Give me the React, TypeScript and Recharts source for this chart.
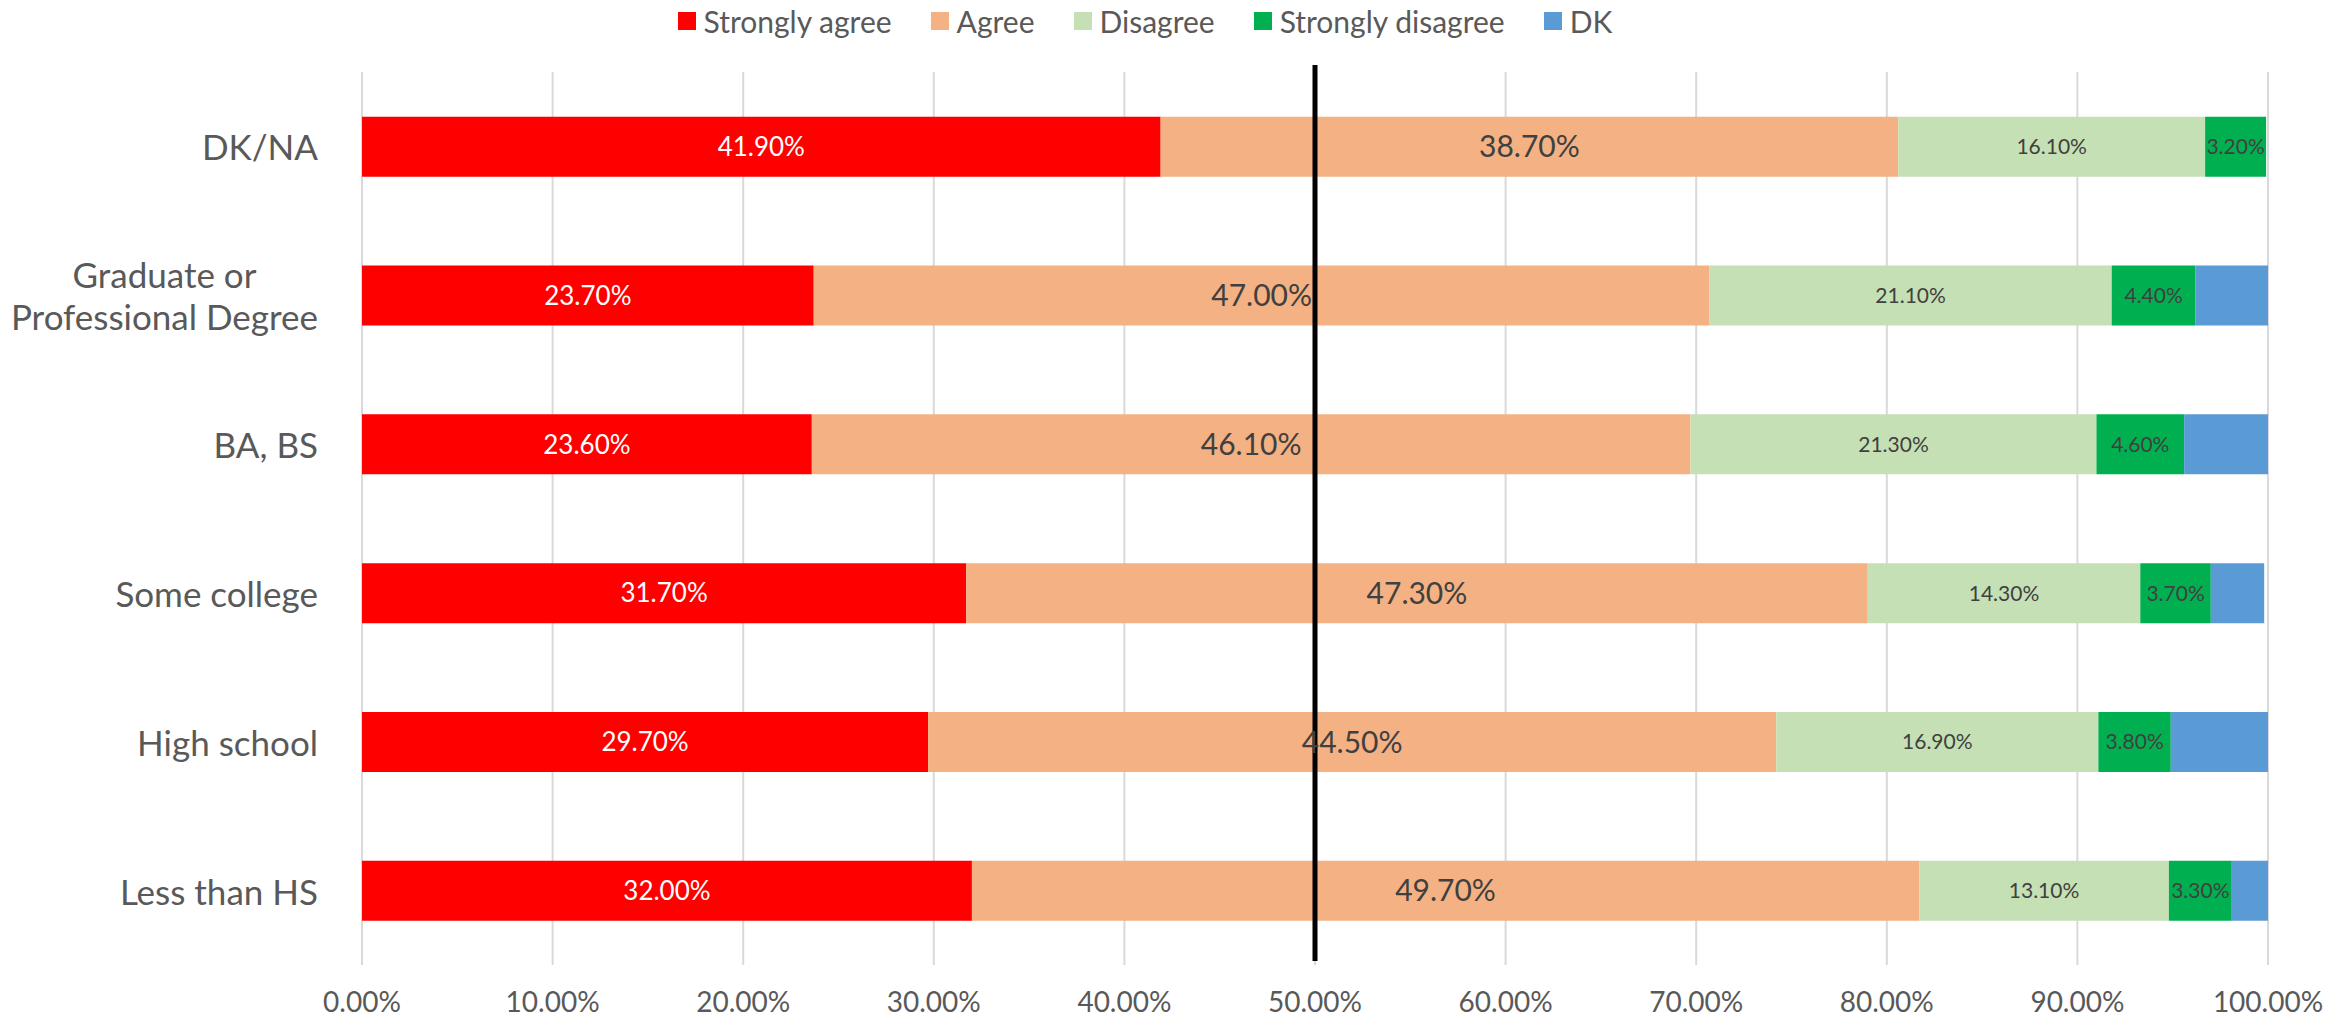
import React from "react";
import { BarChart, Bar, XAxis, YAxis, CartesianGrid, Legend, LabelList, ReferenceLine } from "recharts";

const categories = [
  "DK/NA",
  "Graduate or\nProfessional Degree",
  "BA, BS",
  "Some college",
  "High school",
  "Less than HS",
];
const stronglyAgree = [41.9, 23.7, 23.6, 31.7, 29.7, 32.0];
const agree = [38.7, 47.0, 46.1, 47.3, 44.5, 49.7];
const disagree = [16.1, 21.1, 21.3, 14.3, 16.9, 13.1];
const stronglyDisagree = [3.2, 4.4, 4.6, 3.7, 3.8, 3.3];
const dk = [0, 3.8, 4.4, 2.8, 5.1, 1.9];
const xTicks = [0, 10, 20, 30, 40, 50, 60, 70, 80, 90, 100];

const FONT = "Lato, 'Open Sans', sans-serif";
const AXIS_GREY = "#595959";
const LABEL_GREY = "#404040";

const series = [
  { key: "sa", name: "Strongly agree", color: "#FF0000" },
  { key: "a", name: "Agree", color: "#F4B183" },
  { key: "d", name: "Disagree", color: "#C5E0B4" },
  { key: "sd", name: "Strongly disagree", color: "#00B050" },
  { key: "dk", name: "DK", color: "#5B9BD5" },
];

const data = categories.map((name, i) => ({
  name,
  sa: stronglyAgree[i],
  a: agree[i],
  d: disagree[i],
  sd: stronglyDisagree[i],
  dk: dk[i],
}));

const pct = (v: any) => `${Number(v).toFixed(2)}%`;

let ctx: CanvasRenderingContext2D | null = null;
function textWidth(text: string, font: string) {
  if (!ctx) ctx = document.createElement("canvas").getContext("2d");
  if (!ctx) return text.length * 16;
  ctx.font = font;
  return ctx.measureText(text).width;
}

function CategoryTick({ x, y, payload }: any) {
  const lines = String(payload.value).split("\n");
  const style = { fontFamily: FONT, fontSize: 35, fill: AXIS_GREY };
  if (lines.length === 1) {
    return (
      <text x={x} y={y} textAnchor="end" dominantBaseline="central" {...style}>
        {lines[0]}
      </text>
    );
  }
  const w = Math.max(...lines.map((l) => textWidth(l, `35px Lato`)));
  const lh = 42;
  const y0 = y - ((lines.length - 1) * lh) / 2;
  return (
    <text x={x - w / 2} textAnchor="middle" dominantBaseline="central" {...style}>
      {lines.map((l, i) => (
        <tspan key={i} x={x - w / 2} y={y0 + i * lh}>
          {l}
        </tspan>
      ))}
    </text>
  );
}

function LegendBox() {
  return (
    <div
      style={{
        height: 72,
        display: "flex",
        justifyContent: "center",
        alignItems: "flex-start",
        gap: 39,
        paddingRight: 56,
        fontFamily: FONT,
        fontSize: 30,
        color: AXIS_GREY,
        lineHeight: "36px",
        paddingTop: 3,
        boxSizing: "border-box",
      }}
    >
      {series.map((s) => (
        <div key={s.key} style={{ display: "flex", alignItems: "center", gap: 8 }}>
          <span style={{ width: 18, height: 18, background: s.color, display: "inline-block" }} />
          <span>{s.name}</span>
        </div>
      ))}
    </div>
  );
}

function HalfLine(props: any) {
  const top = Math.min(props.y1, props.y2);
  const bottom = Math.max(props.y1, props.y2);
  return <line x1={props.x1} x2={props.x2} y1={top - 7} y2={bottom - 4} stroke="#000" strokeWidth={5} />;
}

export default function App() {
  return (
    <div style={{ position: "absolute", left: 0, top: 0, width: 2346, height: 1019, background: "#fff" }}>
      <BarChart
        width={2346}
        height={1019}
        data={data}
        layout="vertical"
        barCategoryGap="30%"
        margin={{ top: 0, right: 78, bottom: 0, left: 0 }}
      >
        <Legend verticalAlign="top" content={() => <LegendBox />} wrapperStyle={{ left: 0, width: 2346 }} />
        <CartesianGrid horizontal={false} stroke="#D9D9D9" strokeWidth={2} />
        <XAxis
          type="number"
          domain={[0, 100]}
          ticks={xTicks}
          allowDataOverflow
          tickFormatter={pct}
          axisLine={false}
          tickLine={false}
          tickSize={0}
          tickMargin={27}
          height={54}
          tick={{ fontFamily: FONT, fontSize: 28, fill: AXIS_GREY }}
        />
        <YAxis
          type="category"
          dataKey="name"
          width={362}
          axisLine={false}
          tickLine={false}
          tickSize={0}
          tickMargin={44}
          tick={<CategoryTick />}
          interval={0}
        />
        <Bar dataKey="sa" name="Strongly agree" stackId="s" fill="#FF0000" isAnimationActive={false}>
          <LabelList dataKey="sa" position="center" formatter={pct} fill="#FFFFFF" fontSize={26} fontFamily={FONT} />
        </Bar>
        <Bar dataKey="a" name="Agree" stackId="s" fill="#F4B183" isAnimationActive={false}>
          <LabelList dataKey="a" position="center" formatter={pct} fill={LABEL_GREY} fontSize={30} fontFamily={FONT} />
        </Bar>
        <Bar dataKey="d" name="Disagree" stackId="s" fill="#C5E0B4" isAnimationActive={false}>
          <LabelList dataKey="d" position="center" formatter={pct} fill={LABEL_GREY} fontSize={21} fontFamily={FONT} />
        </Bar>
        <Bar dataKey="sd" name="Strongly disagree" stackId="s" fill="#00B050" isAnimationActive={false}>
          <LabelList dataKey="sd" position="center" formatter={pct} fill={LABEL_GREY} fontSize={21} fontFamily={FONT} />
        </Bar>
        <Bar dataKey="dk" name="DK" stackId="s" fill="#5B9BD5" isAnimationActive={false} />
        <ReferenceLine x={50} shape={<HalfLine />} />
      </BarChart>
    </div>
  );
}
